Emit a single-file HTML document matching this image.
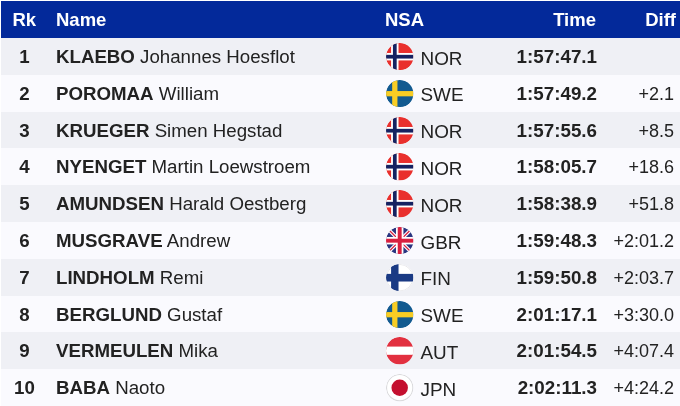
<!DOCTYPE html>
<html><head><meta charset="utf-8">
<style>
html,body{margin:0;padding:0;background:#fff;}
body{width:680px;height:406px;overflow:hidden;font-family:"Liberation Sans",Arial,sans-serif;color:#222;position:relative;}
.hd{position:absolute;left:1px;top:1px;width:679px;height:36.5px;background:#03299a;color:#fff;font-weight:bold;font-size:18.5px;}
.hd span{position:absolute;top:1px;line-height:36.5px;}
.row{position:absolute;left:1px;width:679px;height:37px;font-size:18.7px;line-height:37px;}
.row.o{background:#eff0f5;}
.row.e{background:#fafafe;}
.row span{position:absolute;top:0;white-space:nowrap;}
.rk{left:0;width:47px;text-align:center;font-weight:bold;}
.nm{left:55px;}
.nm b{font-weight:bold;}
.fl{left:385.2px;top:5px !important;width:27.4px;height:27.4px;border-radius:50%;overflow:hidden;}
.fl svg{display:block;width:27.4px;height:27.4px;}
.ns{left:419.5px;font-size:18.9px;top:1.5px !important;}
.tm{right:83px;font-weight:bold;text-align:right;font-size:18.8px;}
.df{right:6px;text-align:right;font-size:18px;top:1px !important;}
</style></head><body>
<div class="hd"><span style="left:11.5px">Rk</span><span style="left:55px">Name</span><span style="left:384px">NSA</span><span style="right:84px">Time</span><span style="right:4px">Diff</span></div>
<svg width="0" height="0" style="position:absolute">
<defs>
<clipPath id="c"><circle cx="14" cy="14" r="14"/></clipPath>
<g id="nor" clip-path="url(#c)"><rect width="28" height="28" fill="#e9302d"/><rect x="5.2" width="7.6" height="28" fill="#fff"/><rect y="10.2" width="28" height="7.6" fill="#fff"/><rect x="7.1" width="3.8" height="28" fill="#152261"/><rect y="12.1" width="28" height="3.8" fill="#152261"/></g>
<g id="swe" clip-path="url(#c)"><rect width="28" height="28" fill="#125a90"/><rect x="6.3" width="5.4" height="28" fill="#f8cd24"/><rect y="11.3" width="28" height="5.4" fill="#f8cd24"/></g>
<g id="fin" clip-path="url(#c)"><rect width="28" height="28" fill="#fff"/><circle cx="14" cy="14" r="13.6" fill="none" stroke="#e2e2e6" stroke-width="0.8"/><rect x="5.2" width="7.6" height="28" fill="#1a3a84"/><rect y="10.1" width="28" height="7.8" fill="#1a3a84"/></g>
<g id="aut" clip-path="url(#c)"><rect width="28" height="28" fill="#e2303f"/><rect y="9.8" width="28" height="8.4" fill="#fff"/></g>
<g id="jpn" clip-path="url(#c)"><rect width="28" height="28" fill="#fff"/><circle cx="14" cy="14" r="13.5" fill="none" stroke="#d9d9dc" stroke-width="1.2"/><circle cx="14" cy="14" r="8.4" fill="#c4102f"/></g>
<g id="gbr" clip-path="url(#c)"><rect width="28" height="28" fill="#2a3580"/><path d="M0 0L28 28M28 0L0 28" stroke="#fff" stroke-width="3.6"/><path d="M0 0L28 28M28 0L0 28" stroke="#d92040" stroke-width="1.3"/><rect x="10.2" width="7.6" height="28" fill="#fff"/><rect y="10.2" width="28" height="7.6" fill="#fff"/><rect x="12" width="4" height="28" fill="#d92040"/><rect y="12" width="28" height="4" fill="#d92040"/></g>
</defs></svg>
<div class="row o" style="top:38.0px"><span class="rk">1</span><span class="nm"><b>KLAEBO</b> Johannes Hoesflot</span><span class="fl"><svg viewBox="0 0 28 28"><use href="#nor"/></svg></span><span class="ns">NOR</span><span class="tm">1:57:47.1</span><span class="df"></span></div>
<div class="row e" style="top:74.8px"><span class="rk">2</span><span class="nm"><b>POROMAA</b> William</span><span class="fl"><svg viewBox="0 0 28 28"><use href="#swe"/></svg></span><span class="ns">SWE</span><span class="tm">1:57:49.2</span><span class="df">+2.1</span></div>
<div class="row o" style="top:111.6px"><span class="rk">3</span><span class="nm"><b>KRUEGER</b> Simen Hegstad</span><span class="fl"><svg viewBox="0 0 28 28"><use href="#nor"/></svg></span><span class="ns">NOR</span><span class="tm">1:57:55.6</span><span class="df">+8.5</span></div>
<div class="row e" style="top:148.4px"><span class="rk">4</span><span class="nm"><b>NYENGET</b> Martin Loewstroem</span><span class="fl"><svg viewBox="0 0 28 28"><use href="#nor"/></svg></span><span class="ns">NOR</span><span class="tm">1:58:05.7</span><span class="df">+18.6</span></div>
<div class="row o" style="top:185.2px"><span class="rk">5</span><span class="nm"><b>AMUNDSEN</b> Harald Oestberg</span><span class="fl"><svg viewBox="0 0 28 28"><use href="#nor"/></svg></span><span class="ns">NOR</span><span class="tm">1:58:38.9</span><span class="df">+51.8</span></div>
<div class="row e" style="top:222.0px"><span class="rk">6</span><span class="nm"><b>MUSGRAVE</b> Andrew</span><span class="fl"><svg viewBox="0 0 28 28"><use href="#gbr"/></svg></span><span class="ns">GBR</span><span class="tm">1:59:48.3</span><span class="df">+2:01.2</span></div>
<div class="row o" style="top:258.8px"><span class="rk">7</span><span class="nm"><b>LINDHOLM</b> Remi</span><span class="fl"><svg viewBox="0 0 28 28"><use href="#fin"/></svg></span><span class="ns">FIN</span><span class="tm">1:59:50.8</span><span class="df">+2:03.7</span></div>
<div class="row e" style="top:295.6px"><span class="rk">8</span><span class="nm"><b>BERGLUND</b> Gustaf</span><span class="fl"><svg viewBox="0 0 28 28"><use href="#swe"/></svg></span><span class="ns">SWE</span><span class="tm">2:01:17.1</span><span class="df">+3:30.0</span></div>
<div class="row o" style="top:332.4px"><span class="rk">9</span><span class="nm"><b>VERMEULEN</b> Mika</span><span class="fl"><svg viewBox="0 0 28 28"><use href="#aut"/></svg></span><span class="ns">AUT</span><span class="tm">2:01:54.5</span><span class="df">+4:07.4</span></div>
<div class="row e" style="top:369.2px"><span class="rk">10</span><span class="nm"><b>BABA</b> Naoto</span><span class="fl"><svg viewBox="0 0 28 28"><use href="#jpn"/></svg></span><span class="ns">JPN</span><span class="tm">2:02:11.3</span><span class="df">+4:24.2</span></div>
</body></html>
